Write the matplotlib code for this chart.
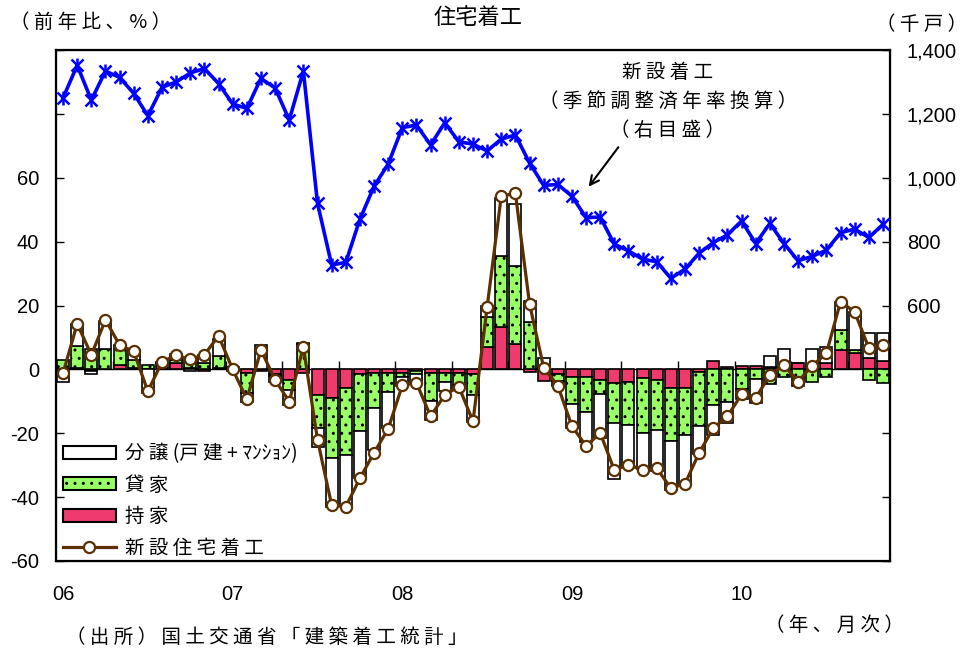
import matplotlib
matplotlib.use('Agg')
import matplotlib.pyplot as plt
from matplotlib.patches import Patch
from matplotlib.lines import Line2D
import numpy as np

plt.rcParams['font.family'] = ['Liberation Sans', 'Noto Sans CJK JP']
plt.rcParams['hatch.linewidth'] = 1.0
JP = ['Noto Sans CJK JP', 'DejaVu Sans']

W, H = 970, 652

# 2006/01 - 2010/11 monthly
year_labels = ['06', '07', '08', '09', '10']
year_pos = [0, 12, 24, 36, 48]

# 新設住宅着工 前年比 (%)
total_yoy = [-1.2, 14.3, 4.5, 15.5, 7.6, 5.6, -6.9, 2.4, 4.4, 3.1, 4.6, 10.5,
             0.0, -9.3, 6.1, -3.3, -10.1, 7.0, -22.0, -42.5, -43.0, -34.1, -26.1, -18.6,
             -5.0, -4.2, -14.7, -8.0, -5.4, -16.3, 19.5, 54.3, 55.1, 20.5, 0.5, -5.1,
             -17.8, -24.0, -19.9, -31.6, -29.8, -31.6, -31.0, -37.2, -35.8, -26.1, -18.4, -14.7,
             -7.8, -8.9, -1.8, 1.3, -3.8, 1.2, 5.0, 21.2, 18.0, 6.7, 7.6]

# 寄与度 : 持家
owned = [0.0, 0.3, -0.5, 0.0, 1.3, 0.3, 0.0, 1.9, 1.9, 0.3, -0.4, 0.3,
         -0.5, -1.2, -0.5, -1.5, -3.3, -1.2, -8.1, -9.0, -5.9, -1.6, -1.2, -1.2,
         -1.0, -0.5, -1.2, -1.2, -1.2, -1.4, 7.0, 13.3, 8.1, -0.9, -3.5, -1.5,
         -2.3, -2.3, -3.3, -4.2, -3.8, -2.8, -3.3, -5.9, -5.9, -0.7, 2.7, 0.8,
         1.2, 1.2, 0.8, 0.5, 2.1, 1.0, 1.9, 6.0, 5.0, 3.7, 2.7]

# 寄与度 : 貸家
rental = [2.9, 7.0, 6.5, 6.5, 5.9, 2.7, 1.3, 0.0, 1.0, 2.6, 1.9, 4.0,
          0.0, -6.2, 0.0, -0.5, -3.1, 8.1, -10.1, -18.7, -21.0, -17.8, -10.9, -6.0,
          -1.5, -0.8, -8.8, -2.6, -3.6, -6.6, 9.3, 22.3, 24.4, 14.8, 0.4, -2.0,
          -8.5, -11.0, -4.3, -12.6, -13.5, -17.1, -15.6, -16.6, -14.5, -17.1, -11.1, -10.1,
          -6.0, -2.9, -4.6, -2.3, -5.2, -4.0, -2.3, 6.2, 1.0, -3.2, -4.2]

# 寄与度 : 分譲 (戸建+マンション)
for_sale = [-3.8, 7.0, -1.0, 8.8, 0.5, 3.0, -7.5, 0.5, 1.8, -0.5, 2.6, 5.3,
            0.8, -2.8, 7.5, -1.8, -4.7, 0.3, -6.0, -15.5, -15.9, -14.5, -13.0, -11.2,
            -2.6, -3.0, -5.9, -3.1, -1.1, -8.4, 3.6, 18.1, 19.2, 6.7, 3.2, -1.6,
            -7.7, -9.3, -13.8, -17.6, -13.0, -11.4, -13.0, -15.4, -15.6, -8.8, -9.6, -6.8,
            -3.3, -7.6, 3.3, 6.0, 0.0, 5.5, 5.1, 8.8, 12.1, 7.7, 8.7]

# 新設着工 季節調整済年率換算 (千戸)
starts_saar = [1250, 1352, 1243, 1334, 1314, 1264, 1194, 1283, 1300, 1328, 1342, 1295,
               1231, 1217, 1311, 1281, 1181, 1334, 920, 727, 735, 870, 973, 1043,
               1157, 1165, 1103, 1172, 1113, 1105, 1084, 1121, 1134, 1046, 976, 979,
               942, 875, 877, 792, 771, 745, 737, 685, 714, 764, 797, 821,
               865, 794, 857, 794, 740, 754, 773, 828, 839, 813, 854]

PINK = '#EF3A6E'
GREEN = '#99FF66'
BROWN = '#5C3000'
BLUE = '#0000FF'
JP_SIZE = 14

x = np.arange(len(total_yoy))

fig = plt.figure(figsize=(W / 100, H / 100), dpi=100)
ax = fig.add_axes([56 / W, 1 - 561 / H, (890 - 56) / W, (561 - 50) / H])

# stacked contributions: positives and negatives stack separately
pos_base = np.zeros(len(x))
neg_base = np.zeros(len(x))
series = [(owned, PINK, None), (rental, GREEN, '..'), (for_sale, 'white', None)]
for vals, color, hatch in series:
    v = np.array(vals)
    bottom = np.where(v >= 0, pos_base, neg_base)
    ax.bar(x, v, bottom=bottom, width=0.85, color=color, edgecolor='black',
           linewidth=1.2, hatch=hatch, zorder=3)
    pos_base = pos_base + np.where(v >= 0, v, 0)
    neg_base = neg_base + np.where(v < 0, v, 0)

ax.axhline(0, color='black', lw=1.0, zorder=2)
# small marks on the zero line every 4 months
ax.vlines(np.arange(3.5, len(x), 4), 0, 2.6, color='black', lw=1.0, zorder=2)

ax.plot(x, total_yoy, color=BROWN, lw=2.3, marker='o', ms=8, mfc='white',
        mec=BROWN, mew=1.6, zorder=5)

ax.set_xlim(-0.5, len(x) - 0.5)
ax.set_ylim(-60, 100)
ax.set_yticks(range(-60, 101, 20))
ax.set_yticklabels([f'{v}' if v <= 60 else '' for v in range(-60, 101, 20)])
ax.set_xticks(year_pos)
ax.set_xticklabels(year_labels)
ax.tick_params(axis='y', direction='in', length=6, width=1, pad=12, labelsize=14.5)
ax.tick_params(axis='x', length=0, pad=17, labelsize=14.5)
for s in ax.spines.values():
    s.set_linewidth(1.6)

ax2 = ax.twinx()
ax2.plot(x, starts_saar, color=BLUE, lw=2.6, marker='x', ms=9, mew=1.8, zorder=4)
ax2.plot(x, starts_saar, ls='none', color=BLUE, marker='|', ms=10, mew=1.8, zorder=4)
ax2.set_ylim(-200, 1400)
ax2.set_yticks(range(-200, 1401, 200))
ax2.set_yticklabels([f'{v:,}' if v >= 600 else '' for v in range(-200, 1401, 200)])
ax2.tick_params(axis='y', direction='in', length=6, width=1, pad=12, labelsize=14.5)
ax2.set_xlim(-0.5, len(x) - 0.5)

handles = [
    Patch(facecolor='white', edgecolor='black', linewidth=1.5),
    Patch(facecolor=GREEN, edgecolor='black', linewidth=1.5, hatch='..'),
    Patch(facecolor=PINK, edgecolor='black', linewidth=1.5),
    Line2D([], [], color=BROWN, lw=2.3, marker='o', ms=8, mfc='white', mec=BROWN, mew=1.6),
]
labels = ['分 譲 (戸 建 + ﾏﾝｼｮﾝ)', '貸 家', '持 家', '新 設 住 宅 着 工']
leg = ax2.legend(handles, labels, loc='lower left',
                 bbox_to_anchor=(63 / W, 1 - 559 / H), bbox_transform=fig.transFigure,
                 frameon=False, borderpad=0, borderaxespad=0, handlelength=2.7,
                 handleheight=0.65, handletextpad=0.5, labelspacing=0.55,
                 prop={'family': JP, 'size': JP_SIZE})

def fx(px):
    return px / W

def fy(py):
    return 1 - py / H

fig.text(fx(478), fy(18), '住宅着工', family=JP, fontsize=16, ha='center', va='center')
fig.text(fx(10), fy(22), '（ 前 年 比 、 % ）', family=JP, fontsize=JP_SIZE, ha='left', va='center')
fig.text(fx(967), fy(25), '（ 千 戸 ）', family=JP, fontsize=JP_SIZE, ha='right', va='center')
fig.text(fx(904), fy(625), '（ 年 、 月 次 ）', family=JP, fontsize=JP_SIZE, ha='right', va='center')
fig.text(fx(66), fy(637), '（ 出 所 ） 国 土 交 通 省 「 建 築 着 工 統 計 」', family=JP,
         fontsize=JP_SIZE, ha='left', va='center')

for txt, yy in [('新 設 着 工', 73), ('（ 季 節 調 整 済 年 率 換 算 ）', 102), ('（ 右 目 盛 ）', 130)]:
    fig.text(fx(668), fy(yy), txt, family=JP, fontsize=JP_SIZE, ha='center', va='center')

ax2.annotate('', xy=(587, H - 189), xycoords='figure pixels',
             xytext=(620, H - 145), textcoords='figure pixels',
             arrowprops=dict(arrowstyle='->', color='black', lw=1.5,
                             mutation_scale=16))

fig.savefig('out.png', dpi=100)
